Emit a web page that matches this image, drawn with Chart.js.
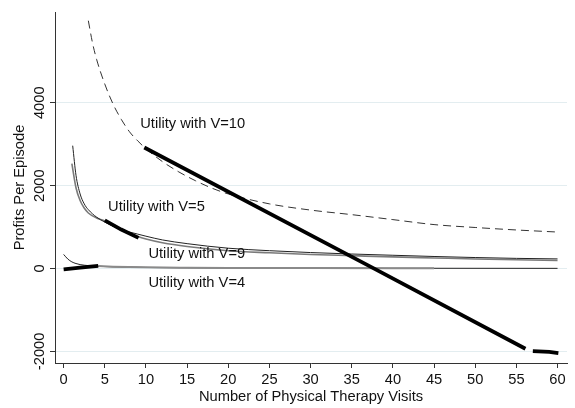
<!DOCTYPE html>
<html><head><meta charset="utf-8">
<script src="https://cdn.jsdelivr.net/npm/chart.js@4/dist/chart.umd.min.js"></script>
<style>html,body{margin:0;padding:0;background:#fff;}#wrap{width:575px;height:408px;}</style>
</head><body><div id="wrap"><canvas id="c" width="575" height="408"></canvas></div>
<script>
// ---- data ----
const xTicks = [0,5,10,15,20,25,30,35,40,45,50,55,60];
const yTicks = [-2000,0,2000,4000];
const yTickLabels = ['-2000','0','2000','4000'];
const xTitle = 'Number of Physical Therapy Visits';
const yTitle = 'Profits Per Episode';

const labelTexts = ['Utility with V=10','Utility with V=5','Utility with V=9','Utility with V=4'];
const labelX = [9.3, 5.4, 10.3, 10.3];
const labelY = [3400, 1380, 260, -435];

// dashed utility curve (V=10)
const v10X = [3,3.5,4,5,6,7,8,9,10,12,14,16,18,20,25,30,35,40,45,50,55,60];
const v10Y = [5980,5450,5050,4450,3970,3600,3300,3080,2890,2580,2330,2120,1940,1800,1560,1410,1300,1180,1060,990,930,880];

// upper thin black utility curve
const curveAX = [1.1,1.5,2,2.5,3,4,5,6,7,8,9,10,12,15,20,25,30,35,40,45,50,55,60];
const curveAY = [2964,2250,1800,1560,1420,1240,1120,1020,940,880,830,780,690,600,490,430,385,350,320,290,265,245,232];

// gray utility curve (carries the V=5 thick segment)
const curveBX = [1.0,1.5,2,2.5,3,4,5,6,7,8,9,10,12,15,20,25,30,35,40,45,50,55,60];
const curveBY = [2530,1950,1640,1460,1340,1220,1150,1030,930,850,770,710,620,530,430,380,340,310,280,255,230,210,195];

// thin black curve decaying to zero
const curveCX = [0,0.5,1,1.5,2,3,4,6,10,20,30,45,60];
const curveCY = [340,230,160,120,95,70,55,40,25,14,9,6,4];

// gray line near zero
const curveDX = [4.2,6,8,10,15,20,30,45];
const curveDY = [60,45,35,28,20,15,10,6];

// thick profit segments
const thick1X = [0,2,4.2];
const thick1Y = [-20,20,65];
const thick2X = [5,7,9.1];
const thick2Y = [1160,940,740];
const thick3X = [9.8,37.5,56.1];
const thick3Y = [2920,20,-1935];
const thick4X = [57,59,60.1];
const thick4Y = [-1995,-2010,-2040];

const FONT = '"Liberation Sans", Arial, sans-serif';
const FS = 14.7;
const pts = (xs, ys) => xs.map((x, i) => ({x, y: ys[i]}));
const thick = (xs, ys) => ({data: pts(xs, ys), borderColor: '#000', borderWidth: 3.8, pointRadius: 0, tension: 0, borderCapStyle: 'butt'});

const textPlugin = {
  id: 'texts',
  afterDatasetsDraw(chart) {
    const ctx = chart.ctx, xs = chart.scales.x, ys = chart.scales.y;
    ctx.save();
    ctx.fillStyle = '#111';
    ctx.font = FS + 'px ' + FONT;
    ctx.textAlign = 'left';
    ctx.textBaseline = 'alphabetic';
    labelTexts.forEach((t, i) => ctx.fillText(t, xs.getPixelForValue(labelX[i]), ys.getPixelForValue(labelY[i])));
    // rotated y tick labels
    ctx.textAlign = 'center';
    yTicks.forEach((v, i) => {
      ctx.save();
      ctx.translate(44, ys.getPixelForValue(v));
      ctx.rotate(-Math.PI / 2);
      ctx.fillText(yTickLabels[i], 0, 0);
      ctx.restore();
    });
    // y title
    ctx.save();
    ctx.translate(23.5, (chart.chartArea.top + chart.chartArea.bottom) / 2);
    ctx.rotate(-Math.PI / 2);
    ctx.fillText(yTitle, 0, 0);
    ctx.restore();
    ctx.restore();
  }
};

new Chart(document.getElementById('c'), {
  type: 'line',
  data: {
    datasets: [
      thick(thick1X, thick1Y),
      thick(thick2X, thick2Y),
      thick(thick3X, thick3Y),
      thick(thick4X, thick4Y),
      {data: pts(curveDX, curveDY), borderColor: '#8a8a8a', borderWidth: 2, pointRadius: 0, cubicInterpolationMode: 'monotone'},
      {data: pts(curveCX, curveCY), borderColor: '#222', borderWidth: 1, pointRadius: 0, cubicInterpolationMode: 'monotone'},
      {data: pts(curveAX, curveAY), borderColor: '#222', borderWidth: 1, pointRadius: 0, cubicInterpolationMode: 'monotone'},
      {data: pts(curveBX, curveBY), borderColor: '#7a7a7a', borderWidth: 1.6, pointRadius: 0, cubicInterpolationMode: 'monotone'},
      {data: pts(v10X, v10Y), borderColor: '#333', borderWidth: 1, borderDash: [8, 5], pointRadius: 0, cubicInterpolationMode: 'monotone'}
    ]
  },
  options: {
    responsive: false,
    animation: false,
    devicePixelRatio: 1,
    layout: {padding: {top: 12, right: 8, left: 0, bottom: 0}},
    plugins: {legend: {display: false}, tooltip: {enabled: false}},
    scales: {
      x: {
        type: 'linear', min: -1.05, max: 61.15,
        afterBuildTicks: s => { s.ticks = xTicks.map(v => ({value: v})); },
        afterFit: s => { s.height = 45; },
        grid: {drawOnChartArea: false, drawTicks: true, tickLength: 5, tickColor: '#333'},
        border: {display: true, color: '#333', width: 1},
        ticks: {font: {family: FONT, size: FS}, color: '#111', padding: 3, maxRotation: 0, autoSkip: false},
        title: {display: true, text: xTitle, font: {family: FONT, size: FS}, color: '#111', padding: {top: 0, bottom: 2}}
      },
      y: {
        type: 'linear', min: -2280, max: 6190,
        afterBuildTicks: s => { s.ticks = yTicks.map(v => ({value: v})); },
        afterFit: s => { s.width = 55; },
        grid: {color: '#e3edf0', lineWidth: 1, drawTicks: true, tickLength: 5, tickColor: '#333'},
        border: {display: true, color: '#333', width: 1},
        ticks: {display: false}
      }
    }
  },
  plugins: [textPlugin]
});
</script>
</body></html>
